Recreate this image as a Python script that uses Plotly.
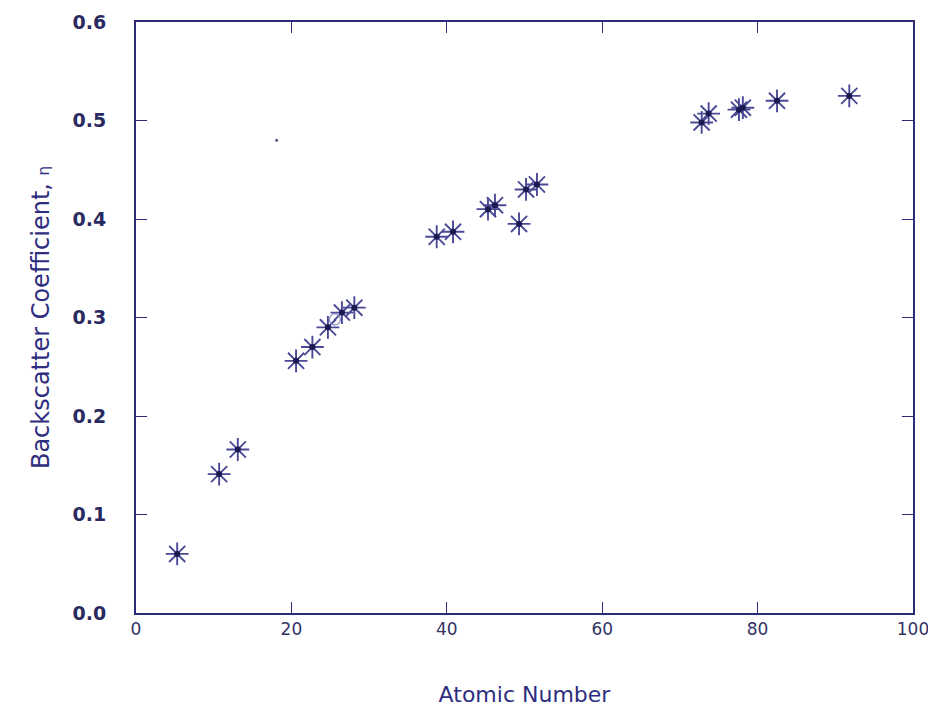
import plotly.graph_objects as go

# ==========================================================
# DATA
# ==========================================================

atomic_number = [
    5.3, 10.7, 13.1, 20.6, 22.7, 24.7, 26.5, 28.1,
    38.7, 40.8, 45.3, 46.2, 49.3, 50.2, 51.6,
    72.8, 73.7, 77.6, 78.1, 82.5, 91.8,
]

backscatter = [
    0.060, 0.141, 0.166, 0.256, 0.270, 0.290, 0.305, 0.310,
    0.382, 0.387, 0.410, 0.414, 0.395, 0.430, 0.435,
    0.498, 0.507, 0.511, 0.513, 0.520, 0.525,
]

# faint open circle and a stray dot visible in the scan
circle_z = [25.6]
circle_eta = [0.298]
speck_z = [18.1]
speck_eta = [0.480]

x_ticks = [0, 20, 40, 60, 80, 100]
y_ticks = [0.0, 0.1, 0.2, 0.3, 0.4, 0.5, 0.6]
y_tick_text = ["0.0", "0.1", "0.2", "0.3", "0.4", "0.5", "0.6"]

NAVY = "#2b2b78"
MARK = "#4a4a98"
TEXT = "#2e2e80"
FONT = "DejaVu Sans, Liberation Sans, sans-serif"

fig = go.Figure()

fig.add_trace(
    go.Scatter(
        x=atomic_number,
        y=backscatter,
        mode="markers",
        marker=dict(
            symbol="asterisk-open",
            size=19,
            color=MARK,
            line=dict(color=MARK, width=1.9),
        ),
        showlegend=False,
    )
)

fig.add_trace(
    go.Scatter(
        x=atomic_number,
        y=backscatter,
        mode="markers",
        marker=dict(symbol="circle", size=6, color="#1a1a50"),
        showlegend=False,
    )
)

fig.add_trace(
    go.Scatter(
        x=circle_z,
        y=circle_eta,
        mode="markers",
        marker=dict(
            symbol="circle-open",
            size=11,
            color="#8a8ac0",
            line=dict(color="#8a8ac0", width=1.2),
        ),
        showlegend=False,
    )
)

fig.add_trace(
    go.Scatter(
        x=speck_z,
        y=speck_eta,
        mode="markers",
        marker=dict(symbol="circle", size=3, color="#555588"),
        showlegend=False,
    )
)

# the page body adds an 8px offset, margins below compensate for it
fig.update_layout(
    width=928,
    height=699,
    paper_bgcolor="white",
    plot_bgcolor="white",
    margin=dict(l=128, r=23, t=14, b=94, autoexpand=False),
    font=dict(family=FONT, color=TEXT),
)

fig.update_xaxes(
    range=[0, 100],
    tickvals=x_ticks,
    ticks="inside",
    ticklen=11,
    tickwidth=1.2,
    tickcolor=NAVY,
    showline=True,
    linecolor=NAVY,
    linewidth=2,
    mirror="ticks",
    showgrid=False,
    zeroline=False,
    automargin=False,
    tickfont=dict(size=17, color="#333366"),
    title=dict(
        text="Atomic Number",
        font=dict(size=22, color=TEXT),
        standoff=48,
    ),
)

fig.update_yaxes(
    range=[0, 0.6],
    tickvals=y_ticks,
    ticktext=y_tick_text,
    ticks="inside",
    ticklen=11,
    tickwidth=1.2,
    tickcolor=NAVY,
    showline=True,
    linecolor=NAVY,
    linewidth=2,
    mirror="ticks",
    showgrid=False,
    zeroline=False,
    automargin=False,
    ticklabelstandoff=24,
    tickfont=dict(size=19, color="#2a2a60", weight="bold"),
    title=dict(
        text="Backscatter Coefficient, <span style='font-size:15px'>η</span>",
        font=dict(size=24, color=TEXT),
        standoff=16,
    ),
)

fig.write_html("out.html")
